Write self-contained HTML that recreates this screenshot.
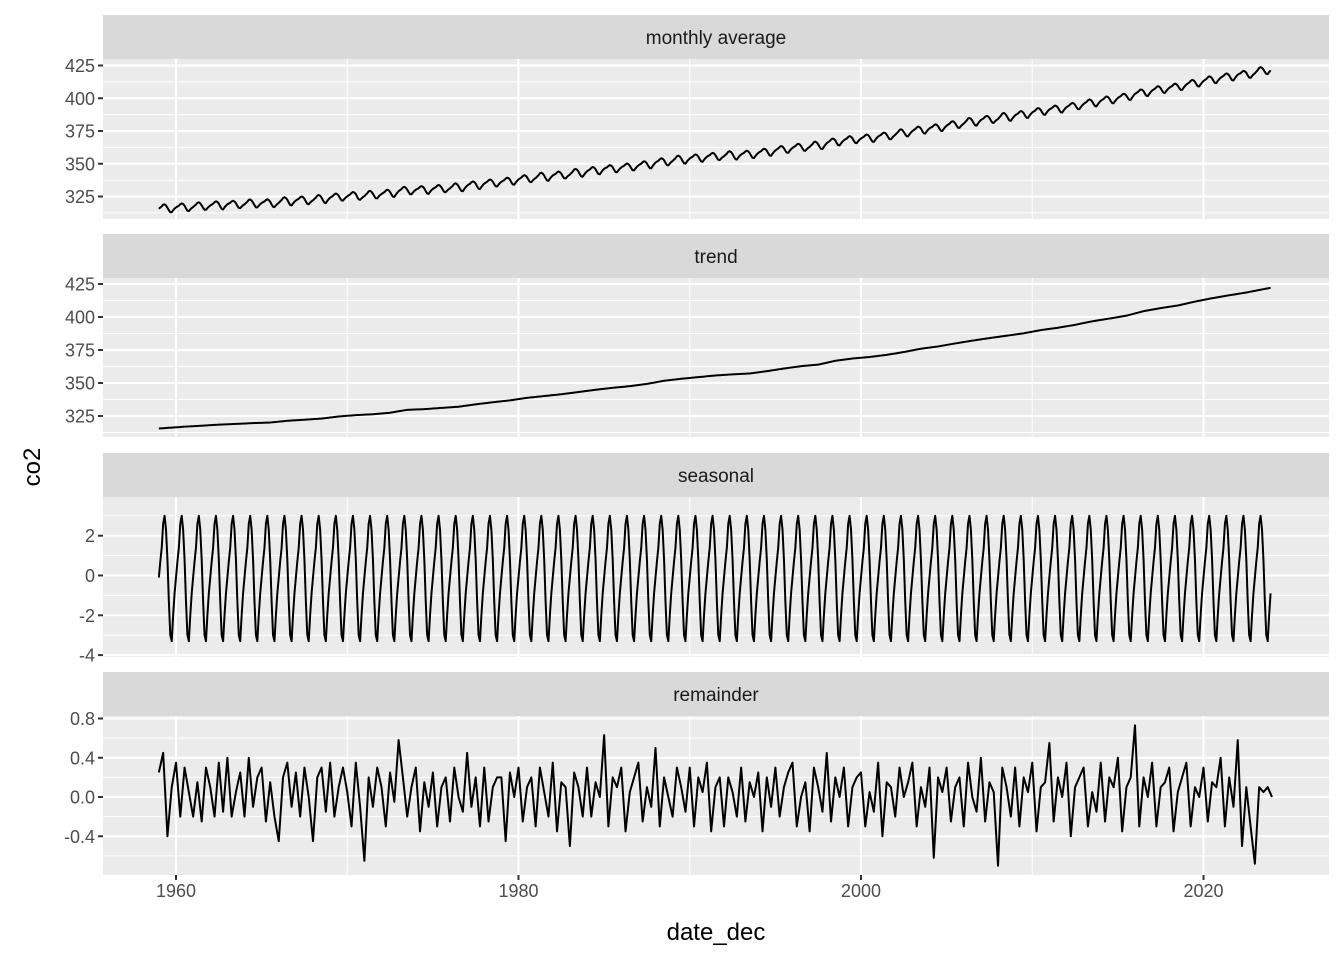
<!DOCTYPE html>
<html><head><meta charset="utf-8"><style>
body{margin:0;background:#fff;}
svg text{font-family:"Liberation Sans",Arial,sans-serif;}
</style></head><body>
<svg id="chart" width="1344" height="960" xmlns="http://www.w3.org/2000/svg"></svg>
<script>
// Annual trend values (ppm), 1959..2023
const trendYears = [1959,1960,1961,1962,1963,1964,1965,1966,1967,1968,1969,1970,1971,1972,1973,1974,1975,1976,1977,1978,1979,1980,1981,1982,1983,1984,1985,1986,1987,1988,1989,1990,1991,1992,1993,1994,1995,1996,1997,1998,1999,2000,2001,2002,2003,2004,2005,2006,2007,2008,2009,2010,2011,2012,2013,2014,2015,2016,2017,2018,2019,2020,2021,2022,2023];
const trendValues = [315.98,316.91,317.64,318.45,318.99,319.62,320.04,321.37,322.18,323.05,324.62,325.68,326.32,327.46,329.68,330.19,331.12,332.03,333.84,335.41,336.84,338.76,340.12,341.48,343.15,344.87,346.35,347.61,349.31,351.69,353.20,354.45,355.70,356.54,357.21,358.96,360.97,362.74,363.88,366.84,368.54,369.71,371.32,373.45,375.98,377.70,379.98,382.09,384.02,385.83,387.64,390.10,391.85,394.06,396.74,398.81,401.01,404.41,406.76,408.72,411.66,414.24,416.45,418.56,421.08];
// Monthly seasonal pattern (Jan..Dec)
const seasonalMonths = [-0.1,0.7,1.4,2.6,3.0,2.3,0.8,-1.3,-3.0,-3.3,-2.0,-0.9];
// Remainder, four samples per year from 1959
const remainderValues = [
0.25,0.45,-0.4,0.1, 0.35,-0.2,0.3,0.05, -0.2,0.15,-0.25,0.3, 0.1,-0.2,0.35,-0.15,
0.4,-0.2,0.05,0.25, -0.2,0.4,-0.1,0.2, 0.3,-0.25,0.15,-0.2, -0.45,0.2,0.35,-0.1,
0.25,-0.2,0.3,0.0, -0.45,0.2,0.3,-0.15, 0.35,-0.2,0.1,0.3, 0.05,-0.3,0.35,-0.1,
-0.65,0.2,-0.1,0.3, 0.1,-0.3,0.25,-0.05, 0.58,0.2,-0.2,0.1, 0.3,-0.35,0.15,-0.1,
0.25,-0.3,0.1,0.2, -0.25,0.3,0.0,-0.15, 0.45,-0.1,0.2,-0.3, 0.3,-0.25,0.1,0.2,
0.2,-0.45,0.25,0.0, 0.3,-0.25,0.1,0.2, -0.3,0.3,0.05,-0.2, 0.35,-0.35,0.15,0.1,
-0.5,0.25,0.1,-0.2, 0.3,-0.2,0.15,0.0, 0.63,-0.3,0.2,0.1, 0.3,-0.35,0.05,0.2,
0.35,-0.25,0.1,-0.1, 0.5,-0.3,0.2,0.0, -0.2,0.3,0.1,-0.15, 0.3,-0.3,0.2,0.05,
0.35,-0.35,0.1,0.2, -0.3,0.2,0.05,-0.2, 0.3,-0.25,0.15,0.0, 0.25,-0.35,0.2,-0.1,
0.3,-0.2,0.1,0.25, 0.35,-0.3,0.0,0.15, -0.35,0.3,0.1,-0.15, 0.45,-0.25,0.2,0.0,
0.3,-0.3,0.1,0.2, 0.25,-0.3,0.05,-0.15, 0.35,-0.4,0.15,0.1, -0.2,0.3,0.0,0.15,
0.35,-0.3,0.1,-0.1, 0.3,-0.62,0.2,0.05, 0.3,-0.25,0.1,0.2, -0.3,0.35,0.0,-0.15,
0.4,-0.25,0.15,0.05, -0.7,0.3,0.1,-0.2, 0.3,-0.3,0.2,0.05, 0.35,-0.35,0.1,0.15,
0.55,-0.25,0.2,0.0, 0.35,-0.4,0.1,0.2, 0.3,-0.3,0.05,-0.15, 0.35,-0.25,0.2,0.1,
0.4,-0.35,0.1,0.2, 0.73,-0.3,0.2,0.0, 0.35,-0.3,0.1,0.15, 0.3,-0.35,0.05,0.2,
0.35,-0.3,0.1,0.0, 0.3,-0.25,0.15,0.1, 0.4,-0.3,0.2,-0.1, 0.58,-0.5,0.1,-0.3,
-0.68,0.1,0.05,0.1, 0.0];
const xTicks = [1960,1980,2000,2020];
const co2Ticks = [325,350,375,400,425];
const seasonalTicks = [2,0,-2,-4];
const remainderTicks = [0.8,0.4,0.0,-0.4];

const NS="http://www.w3.org/2000/svg";
const svg=document.getElementById('chart');
function el(tag,attrs,parent){const e=document.createElementNS(NS,tag);for(const k in attrs)e.setAttribute(k,attrs[k]);(parent||svg).appendChild(e);return e;}
const X0=103,X1=1329;
const x=yr=>176+(yr-1960)*17.125;
function lin(v0,p0,v1,p1){return v=>p0+(v-v0)*(p1-p0)/(v1-v0);}
const panels=[
 {name:'monthly-average',title:'monthly average',sy:15,top:59,bot:219,y:lin(325,196.5,425,65.5),ticks:co2Ticks,minor:[312.5,337.5,362.5,387.5,412.5],fmt:v=>v},
 {name:'trend',title:'trend',sy:234,top:278,bot:437,y:lin(325,416,425,284),ticks:co2Ticks,minor:[312.5,337.5,362.5,387.5,412.5],fmt:v=>v},
 {name:'seasonal',title:'seasonal',sy:453,top:497,bot:657,y:lin(0,575.5,2,535.7),ticks:seasonalTicks,minor:[3,1,-1,-3],fmt:v=>v},
 {name:'remainder',title:'remainder',sy:672,top:716,bot:875,y:lin(0,797,0.8,718.5),ticks:remainderTicks,minor:[0.6,0.2,-0.2,-0.6],fmt:v=>v.toFixed(1)}
];
function trendAt(t){const i=Math.min(Math.max(Math.floor(t-1959.5),0),trendYears.length-2);const f=(t-1959.5)-i;return trendValues[i]+(trendValues[i+1]-trendValues[i])*Math.min(Math.max(f,-0.5),1.5);}
function remAt(t){const p=(t-1959)*4;const i=Math.min(Math.floor(p),remainderValues.length-2);const f=p-i;return remainderValues[i]*(1-f)+remainderValues[i+1]*f;}
const months=[];for(let t=1959;t<=2023.92;t+=1/12)months.push(t);
const series={
 'monthly-average':months.map((t,k)=>trendAt(t)+seasonalMonths[k%12]+remAt(t)),
 'trend':months.map(t=>trendAt(t)),
 'seasonal':months.map((t,k)=>seasonalMonths[k%12]),
 'remainder':remainderValues.map(v=>v)
};
panels.forEach(p=>{
 const g=el('g',{});
 
 
 const s=el('rect',{x:X0,y:p.sy,width:X1-X0,height:p.top-p.sy,fill:'#d9d9d9'},g);
 
 const st=el('text',{x:(X0+X1)/2,y:(p.sy+p.top)/2+7,'text-anchor':'middle','font-size':'19',fill:'#1a1a1a'},g);st.textContent=p.title;
 
 const bg=el('rect',{x:X0,y:p.top,width:X1-X0,height:p.bot-p.top,fill:'#ebebeb'},g);
 
 p.minor.forEach(v=>{const yy=p.y(v);if(yy>p.top&&yy<p.bot)el('line',{x1:X0,x2:X1,y1:yy,y2:yy,stroke:'#fff','stroke-width':1},g);});
 [1970,1990,2010].forEach(v=>el('line',{x1:x(v),x2:x(v),y1:p.top,y2:p.bot,stroke:'#fff','stroke-width':1},g));
 p.ticks.forEach(v=>{const yy=p.y(v);el('line',{x1:X0,x2:X1,y1:yy,y2:yy,stroke:'#fff','stroke-width':2},g);
  el('line',{x1:X0-5,x2:X0,y1:yy,y2:yy,stroke:'#333','stroke-width':2},g);
  const t=el('text',{x:X0-8,y:yy+6.5,'text-anchor':'end','font-size':'18',fill:'#4d4d4d'},g);t.textContent=p.fmt(v);
  });
 xTicks.forEach(v=>el('line',{x1:x(v),x2:x(v),y1:p.top,y2:p.bot,stroke:'#fff','stroke-width':2},g));
 const vals=series[p.name];
 const pts=p.name==='remainder'?vals.map((v,i)=>x(1959+i/4)+','+p.y(v)):vals.map((v,i)=>x(months[i])+','+p.y(v));
 const line=el('polyline',{points:pts.join(' '),fill:'none',stroke:'#000','stroke-width':2,'stroke-linejoin':'round'},g);
 
});
xTicks.forEach(v=>{el('line',{x1:x(v),x2:x(v),y1:875,y2:880,stroke:'#333','stroke-width':2});
 const t=el('text',{x:x(v),y:897,'text-anchor':'middle','font-size':'18',fill:'#4d4d4d'});t.textContent=v;
 });
const xt=el('text',{x:716,y:940,'text-anchor':'middle','font-size':'24',fill:'#000'});xt.textContent='date_dec';

const yt=el('text',{x:40,y:467,'text-anchor':'middle','font-size':'24',fill:'#000',transform:'rotate(-90 40 467)'});yt.textContent='co2';

</script>
</body></html>
